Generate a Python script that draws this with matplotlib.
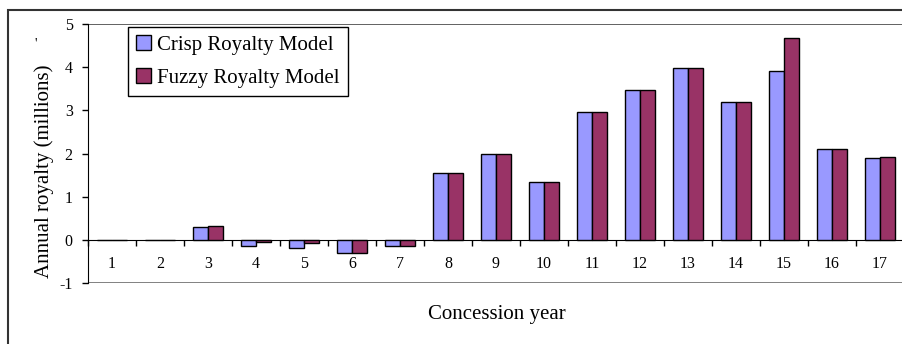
import numpy as np
import matplotlib.pyplot as plt
from matplotlib.patches import Rectangle

plt.rcParams['font.family'] = ['Liberation Serif', 'DejaVu Serif']
plt.rcParams['axes.unicode_minus'] = False

# data
years = [str(i) for i in range(1, 18)]
crisp = [0, 0, 0.29, -0.15, -0.19, -0.31, -0.15, 1.55, 2.0, 1.33, 2.96, 3.46, 3.97, 3.19, 3.90, 2.11, 1.89]
fuzzy = [0, 0, 0.33, -0.05, -0.08, -0.31, -0.15, 1.55, 2.0, 1.33, 2.96, 3.46, 3.97, 3.19, 4.67, 2.11, 1.93]

fig = plt.figure(figsize=(9.02, 3.44), dpi=100)
ax = fig.add_axes([88 / 902, 1 - 283 / 344, 816 / 902, 259 / 344])

x = np.arange(1, len(years) + 1)
w = 0.31
ax.bar(x - w / 2, crisp, w, color='#9999FF', edgecolor='black', linewidth=1, label='Crisp Royalty Model', zorder=3)
ax.bar(x + w / 2, fuzzy, w, color='#993366', edgecolor='black', linewidth=1, label='Fuzzy Royalty Model', zorder=3)

ax.set_xlim(0.5, 17.5)
ax.set_ylim(-1, 5)
ax.set_yticks(range(-1, 6))
ax.tick_params(axis='y', direction='out', length=4, width=1, pad=7, labelsize=11.5)

# category axis sits on zero
ax.spines['bottom'].set_position(('data', 0))
ax.spines['top'].set_visible(False)
ax.spines['right'].set_visible(False)
ax.set_xticks(x)
ax.set_xticklabels(years)
ax.set_xticks(np.arange(0.5, 18, 1), minor=True)
ax.tick_params(axis='x', which='major', length=0, pad=12, labelsize=11.5)
ax.tick_params(axis='x', which='minor', direction='out', length=4, width=1)

# plot area border lines
ax.axhline(5, color='#555555', lw=1.3, zorder=1)
ax.axhline(-1, color='#777777', lw=1.3, zorder=1)

ax.set_ylabel('Annual royalty (millions)', fontsize=15)
ax.yaxis.set_label_coords(-34 / 816, (283 - 171) / 259)
fig.text(497 / 902, 1 - 315 / 344, 'Concession year', fontsize=15, ha='center', va='center')
fig.text(36 / 902, 1 - 44 / 344, "'", fontsize=10, ha='center', va='center')

leg = ax.legend(loc='upper left', bbox_to_anchor=(40 / 816, (283 - 27) / 259), borderaxespad=0,
                fontsize=15, frameon=True, fancybox=False, edgecolor='black', framealpha=1,
                handlelength=0.7, handleheight=0.7, handletextpad=0.3, borderpad=0.4, labelspacing=0.65)
leg.get_frame().set_linewidth(1)

# outer chart border
fig.patches.append(Rectangle((8 / 902, -0.1), 1.0, 1.1 - 10 / 344, transform=fig.transFigure,
                             fill=False, edgecolor='#333333', lw=1.5))

fig.savefig('out.png', dpi=100)
